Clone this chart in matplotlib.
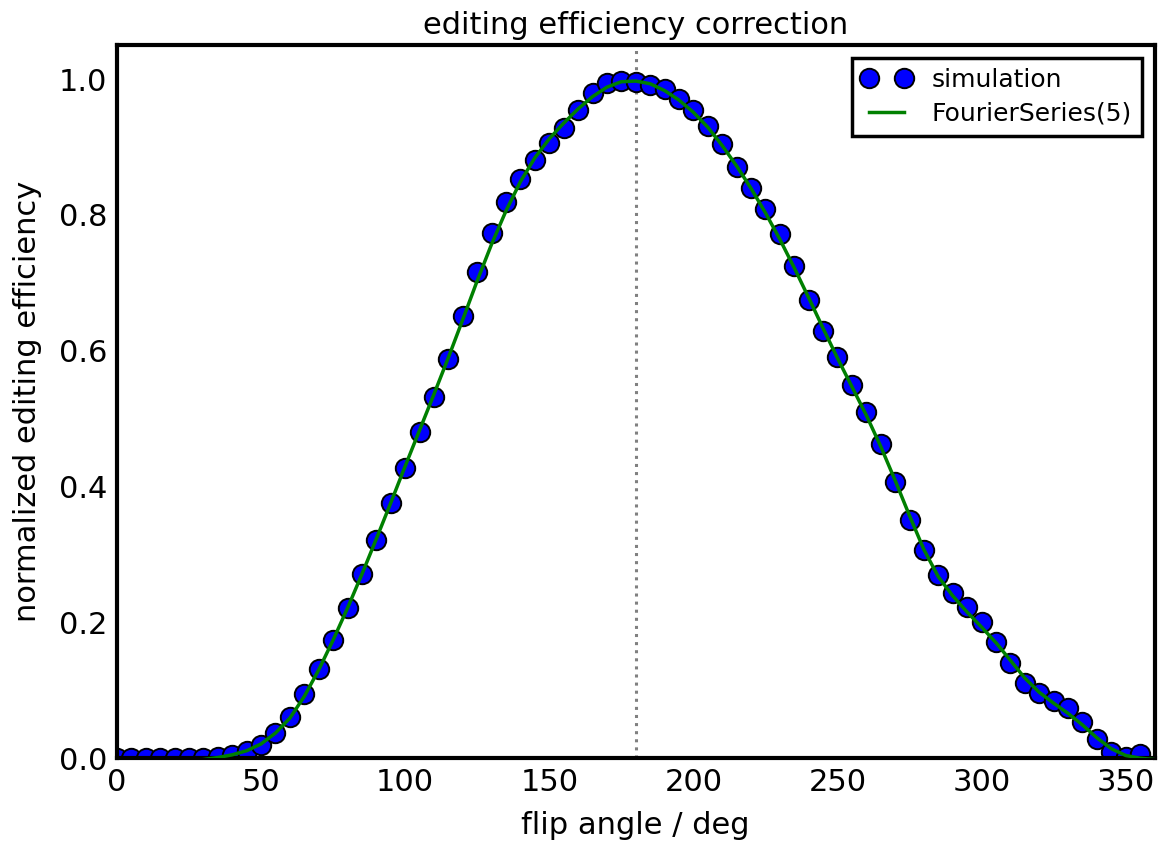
import numpy as np
import matplotlib
matplotlib.use('Agg')
import matplotlib.pyplot as plt

# simulated points, every 5 deg
angle = np.arange(0, 360, 5)
efficiency = [0.0, 0.0, 0.0, 0.0, 0.0, 0.0, 0.001, 0.002, 0.004, 0.010,
              0.019, 0.037, 0.060, 0.094, 0.131, 0.174, 0.221, 0.271, 0.322, 0.376,
              0.428, 0.481, 0.532, 0.588, 0.651, 0.716, 0.774, 0.819, 0.853, 0.881,
              0.906, 0.928, 0.954, 0.979, 0.994, 0.997, 0.996, 0.991, 0.985, 0.971,
              0.954, 0.931, 0.904, 0.871, 0.840, 0.809, 0.772, 0.725, 0.675, 0.629,
              0.590, 0.550, 0.510, 0.463, 0.407, 0.351, 0.306, 0.269, 0.243, 0.222,
              0.201, 0.171, 0.140, 0.110, 0.096, 0.084, 0.074, 0.054, 0.028, 0.009,
              0.002, 0.006]

# fitted curve
fit_angle = np.arange(0, 365, 5)
fit_values = [-0.004, -0.007, -0.009, -0.009, -0.008, -0.005, -0.002, 0.001, 0.005, 0.011,
              0.021, 0.037, 0.059, 0.091, 0.130, 0.174, 0.221, 0.271, 0.323, 0.376,
              0.430, 0.483, 0.536, 0.590, 0.646, 0.703, 0.757, 0.806, 0.849, 0.884,
              0.912, 0.935, 0.956, 0.974, 0.988, 0.996, 0.997, 0.993, 0.983, 0.969,
              0.951, 0.929, 0.902, 0.872, 0.839, 0.803, 0.764, 0.722, 0.678, 0.633,
              0.589, 0.547, 0.505, 0.459, 0.409, 0.357, 0.307, 0.267, 0.239, 0.215,
              0.193, 0.170, 0.144, 0.118, 0.097, 0.081, 0.066, 0.049, 0.030, 0.014,
              0.004, 0.000, -0.002]

plt.rcParams['font.family'] = 'DejaVu Sans'
fig = plt.figure(figsize=(11.58, 8.5), dpi=100)
ax = fig.add_axes([0.101, 0.108, 0.896, 0.839])

ax.plot(angle, efficiency, 'o', color='blue', markersize=14, markeredgecolor='black',
        markeredgewidth=1.4, label='simulation', zorder=2)
ax.plot(fit_angle, fit_values, '-', color='green', linewidth=2.5,
        label='FourierSeries(5)', zorder=3)
ax.axvline(180, color='grey', linestyle=':', linewidth=2.2, zorder=1)

ax.set_xlim(0, 360)
ax.set_ylim(0, 1.05)
ax.set_xticks([0, 50, 100, 150, 200, 250, 300, 350])
ax.set_yticks([0.0, 0.2, 0.4, 0.6, 0.8, 1.0])
ax.tick_params(length=0, labelsize=22, pad=7)
for s in ax.spines.values():
    s.set_linewidth(3)

ax.set_title('editing efficiency correction', fontsize=22, pad=8)
ax.set_xlabel('flip angle / deg', fontsize=22, labelpad=10)
ax.set_ylabel('normalized editing efficiency', fontsize=22, labelpad=12)

leg = ax.legend(loc='upper right', numpoints=2, fontsize=18, fancybox=False,
                framealpha=1, borderaxespad=0.5, handlelength=2.0,
                handletextpad=0.8, borderpad=0.4, labelspacing=0.4)
leg.get_frame().set_edgecolor('black')
leg.get_frame().set_linewidth(2.5)

plt.savefig('out.png', dpi=100)
